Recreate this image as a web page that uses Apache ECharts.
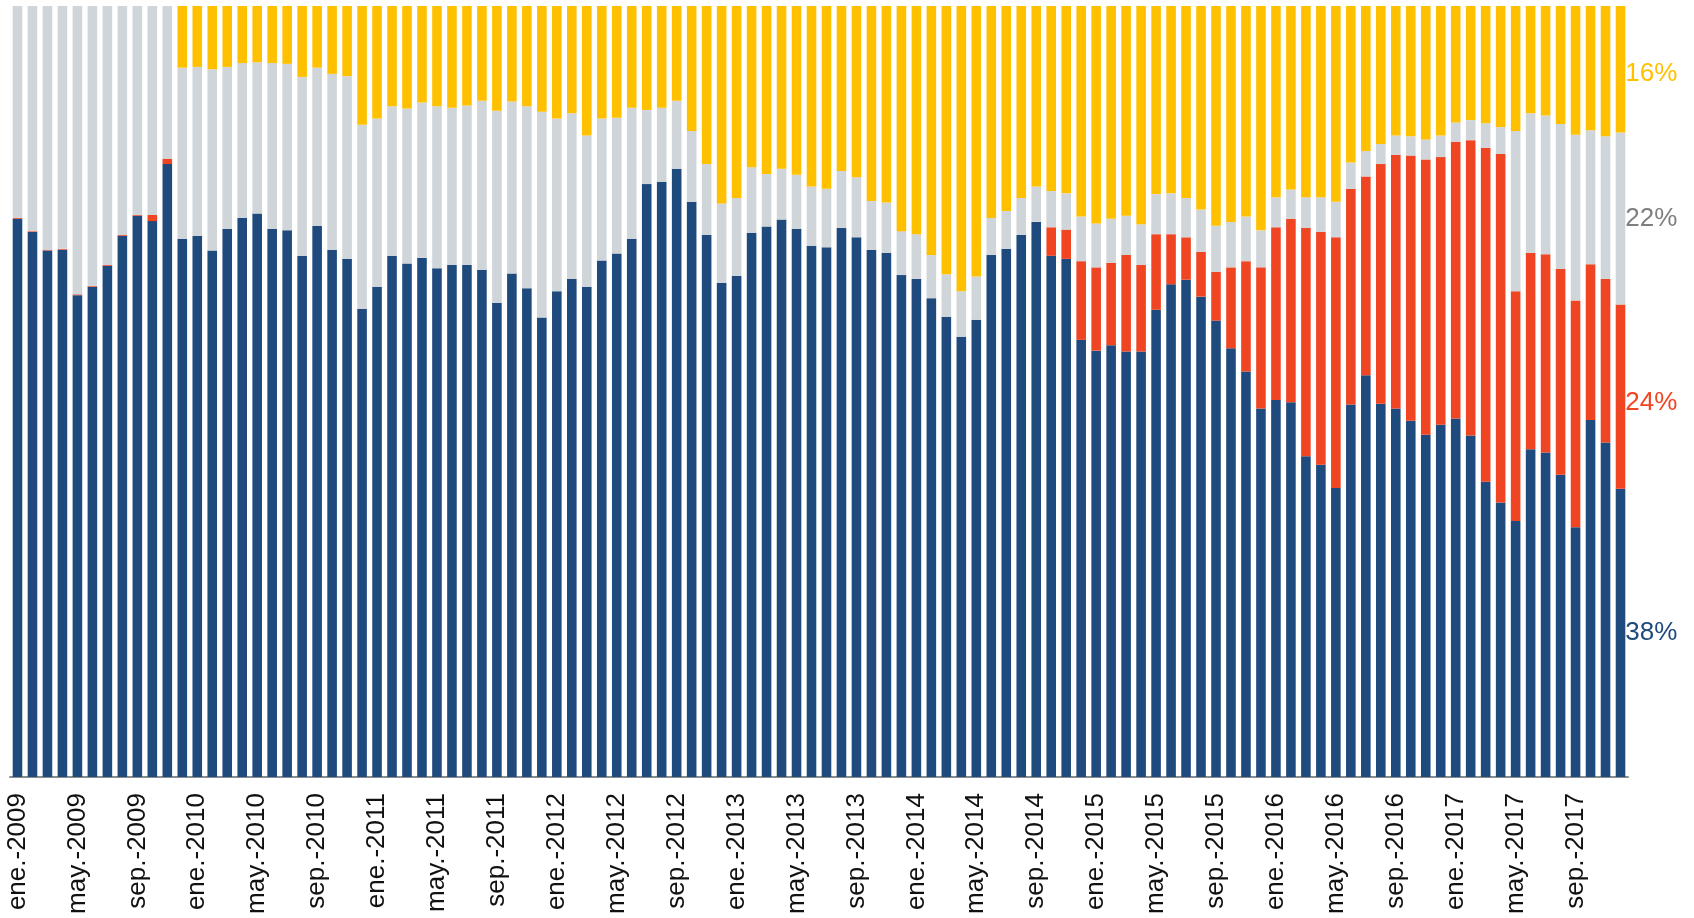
<!DOCTYPE html>
<html>
<head>
<meta charset="utf-8">
<script src="https://cdn.jsdelivr.net/npm/echarts@6/dist/echarts.min.js"></script>
<style>
  html, body { margin: 0; padding: 0; background: #fff; }
  #chart { width: 1694px; height: 918px; }
</style>
</head>
<body>
<div id="chart"></div>
<script>
var monthNames = ["ene.", "feb.", "mar.", "abr.", "may.", "jun.", "jul.", "ago.", "sep.", "oct.", "nov.", "dic."];
var years = [2009, 2010, 2011, 2012, 2013, 2014, 2015, 2016, 2017];

// % del total por mes
var blue = [
  72.4, 70.7, 68.3, 68.4, 62.5, 63.6, 66.3, 70.2, 72.8, 72.1, 79.5, 69.8,
  70.2, 68.3, 71.1, 72.5, 73.1, 71.1, 70.9, 67.6, 71.5, 68.4, 67.2, 60.7,
  63.6, 67.6, 66.6, 67.3, 66.0, 66.4, 66.4, 65.8, 61.5, 65.3, 63.4, 59.6,
  63.0, 64.6, 63.6, 67.0, 67.9, 69.8, 76.9, 77.2, 78.9, 74.6, 70.3, 64.1,
  65.0, 70.6, 71.4, 72.3, 71.1, 68.9, 68.7, 71.2, 70.0, 68.4, 68.0, 65.1,
  64.6, 62.1, 59.7, 57.1, 59.3, 67.7, 68.5, 70.3, 72.0, 67.6, 67.2, 56.7,
  55.3, 56.0, 55.2, 55.2, 60.6, 63.9, 64.5, 62.3, 59.2, 55.6, 52.6, 47.8,
  48.9, 48.6, 41.6, 40.5, 37.5, 48.3, 52.1, 48.4, 47.8, 46.2, 44.4, 45.7,
  46.5, 44.3, 38.3, 35.6, 33.2, 42.5, 42.1, 39.2, 32.4, 46.3, 43.4, 37.4
];
var red = [
  0.1, 0.1, 0.1, 0.1, 0.1, 0.1, 0.1, 0.1, 0.1, 0.8, 0.7, 0,
  0, 0, 0, 0, 0, 0, 0, 0, 0, 0, 0, 0,
  0, 0, 0, 0, 0, 0, 0, 0, 0, 0, 0, 0,
  0, 0, 0, 0, 0, 0, 0, 0, 0, 0, 0, 0,
  0, 0, 0, 0, 0, 0, 0, 0, 0, 0, 0, 0,
  0, 0, 0, 0, 0, 0, 0, 0, 0, 3.7, 3.8, 10.2,
  10.8, 10.7, 12.5, 11.2, 9.8, 6.5, 5.5, 5.8, 6.3, 10.5, 14.3, 18.3,
  22.4, 23.8, 29.6, 30.2, 32.5, 28.0, 25.8, 31.1, 32.9, 34.4, 35.7, 34.7,
  35.9, 38.3, 43.3, 45.2, 29.8, 25.5, 25.7, 26.7, 29.4, 20.2, 21.2, 23.9
];
var gray = [
  27.5, 29.2, 31.6, 31.5, 37.4, 36.3, 33.6, 29.7, 27.1, 27.1, 19.8, 22.2,
  21.9, 23.5, 21.0, 20.1, 19.6, 21.5, 21.6, 23.2, 20.5, 22.8, 23.7, 23.9,
  21.8, 19.4, 20.1, 20.2, 21.0, 20.4, 20.7, 21.9, 24.9, 22.3, 23.6, 26.7,
  22.4, 21.5, 19.6, 18.4, 17.6, 17.0, 9.6, 9.6, 8.8, 9.2, 9.2, 10.3,
  10.1, 8.5, 6.8, 6.6, 7.0, 7.7, 7.6, 7.4, 7.8, 6.3, 6.5, 5.7,
  5.8, 5.6, 5.5, 5.9, 5.6, 4.8, 4.9, 4.8, 4.6, 4.7, 4.7, 5.8,
  5.7, 5.7, 5.1, 5.3, 5.2, 5.3, 5.1, 5.5, 6.0, 5.9, 5.8, 4.8,
  3.9, 3.8, 4.0, 4.5, 4.6, 3.4, 3.3, 2.6, 2.5, 2.5, 2.6, 2.8,
  2.5, 2.6, 3.2, 3.5, 20.8, 18.1, 18.0, 18.8, 21.5, 17.4, 18.5, 22.3
];
var yellow = [
  0, 0, 0, 0, 0, 0, 0, 0, 0, 0, 0, 8.0,
  7.9, 8.2, 7.9, 7.4, 7.3, 7.4, 7.5, 9.2, 8.0, 8.8, 9.1, 15.4,
  14.6, 13.0, 13.3, 12.5, 13.0, 13.2, 12.9, 12.3, 13.6, 12.4, 13.0, 13.7,
  14.6, 13.9, 16.8, 14.6, 14.5, 13.2, 13.5, 13.2, 12.3, 16.2, 20.5, 25.6,
  24.9, 20.9, 21.8, 21.1, 21.9, 23.4, 23.7, 21.4, 22.2, 25.3, 25.5, 29.2,
  29.6, 32.3, 34.8, 37.0, 35.1, 27.5, 26.6, 24.9, 23.4, 24.0, 24.3, 27.3,
  28.2, 27.6, 27.2, 28.3, 24.4, 24.3, 24.9, 26.4, 28.5, 28.0, 27.3, 29.1,
  24.8, 23.8, 24.8, 24.8, 25.4, 20.3, 18.8, 17.9, 16.8, 16.9, 17.3, 16.8,
  15.1, 14.8, 15.2, 15.7, 16.2, 13.9, 14.2, 15.3, 16.7, 16.1, 16.9, 16.4
];
// etiquetas a la derecha de la última barra
var endLabels = ["38%", "24%", "22%", "16%"];

var categories = [];
years.forEach(function (y) {
  monthNames.forEach(function (m) {
    categories.push(m + "-" + y);
  });
});

var fontFamily = "'Liberation Sans', Arial, sans-serif";

function makeSeries(name, values, color, labelText, labelColor, dy) {
  var last = values.length - 1;
  var data = values.map(function (v, i) {
    if (i !== last) return v;
    return {
      value: v,
      label: {
        show: true,
        position: "right",
        distance: 0,
        offset: [0, dy],
        formatter: labelText,
        color: labelColor,
        fontSize: 26,
        fontFamily: fontFamily
      }
    };
  });
  return {
    name: name,
    type: "bar",
    stack: "total",
    data: data,
    barCategoryGap: "36%",
    itemStyle: { color: color },
    emphasis: { disabled: true }
  };
}

var chart = echarts.init(document.getElementById("chart"));
chart.setOption({
  animation: false,
  backgroundColor: "#fff",
  grid: { left: 10, right: 66, top: 6, bottom: 141, containLabel: false },
  xAxis: {
    type: "category",
    data: categories,
    axisTick: { show: false },
    axisLine: { lineStyle: { color: "#8c8c8c", width: 2 } },
    axisLabel: {
      interval: 3,
      rotate: 90,
      margin: 16,
      fontSize: 26,
      color: "#111",
      fontFamily: fontFamily
    }
  },
  yAxis: {
    type: "value",
    min: 0,
    max: 100,
    show: false,
    splitLine: { show: false }
  },
  series: [
    makeSeries("azul", blue, "#1f4a7d", endLabels[0], "#1f4a7d", 0),
    makeSeries("rojo", red, "#f04523", endLabels[1], "#f04523", 6),
    makeSeries("gris", gray, "#cfd5d9", endLabels[2], "#7f7f7f", 0),
    makeSeries("amarillo", yellow, "#ffc000", endLabels[3], "#ffc000", 5)
  ]
});
</script>
</body>
</html>
